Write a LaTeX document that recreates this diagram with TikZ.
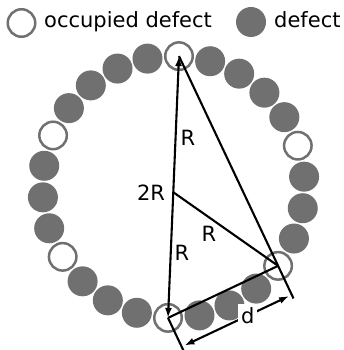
\documentclass[tikz,border=0pt]{standalone}
\usepackage{fontspec}
\setmainfont{DejaVu Sans}
\usetikzlibrary{arrows.meta, calc}
\definecolor{defgray}{RGB}{112,112,112}

\begin{document}
\begin{tikzpicture}[x=1pt, y=1pt, >={Latex[length=10pt,width=7pt]},
    dfc/.style={circle, fill=defgray, minimum size=30pt, inner sep=0pt},
    occ/.style={circle, draw=defgray, line width=2.5pt, fill=white, minimum size=27.5pt, inner sep=0pt},
    lbl/.style={font=\fontsize{21}{25}\selectfont, inner sep=1pt},
    ln/.style={line width=2.1pt}]
    \useasboundingbox (-173.5,-163) rectangle (170.5,187);
    % legend
    \node[occ] (legocc) at (-152,164) {};
    \node[lbl, anchor=base west] (legocctxt) at (-130.5,159) {occupied defect};
    \node[dfc] (legdfc) at (77.5,165) {};
    \node[lbl, anchor=base west] (legdfctxt) at (99.5,159) {defect};
    % ring of defects
    \foreach \i in {1,2,3,4,6,7,8,10,11,12,14,15,16,18,19,20,22,23,24,25}
        \node[dfc] (c\i) at ({87.6-\i*13.846}:131) {};
    \foreach \i in {0,5,9,13,17,21}
        \node[occ] (c\i) at ({87.6-\i*13.846}:131) {};
    % construction
    \coordinate (O) at ($(c13.center)!0.48!(c0.center)$);
    \coordinate (e1) at ($(c13.center)!36pt!-90:(c9.center)$);
    \coordinate (e2) at ($(c9.center)!-36pt!(c0.center)$);
    \coordinate (d1) at ($(c13.center)!32pt!-90:(c9.center)$);
    \coordinate (d2) at ($(c9.center)!32pt!90:(c13.center)$);
    \draw[ln, <->] (c13.center) -- (c0.center);
    \draw[ln] (O) -- (c9.center);
    \draw[ln] (c0.center) -- (e2);
    \draw[ln] (c13.center) -- (c9.center);
    \draw[ln] (c13.center) -- (e1);
    \draw[ln, <->, shorten <=3pt, shorten >=3pt] (d1) -- node[lbl, pos=0.6, fill=white, inner sep=3pt] (dlbl) {d} (d2);
    \node[lbl] (rtop) at (14.5,49.5) {R};
    \node[lbl] (rbot) at (8.5,-65.5) {R};
    \node[lbl] (rmid) at (35.5,-46.7) {R};
    \node[lbl] (twor) at (-22.5,-6) {2R};
\end{tikzpicture}
\end{document}
